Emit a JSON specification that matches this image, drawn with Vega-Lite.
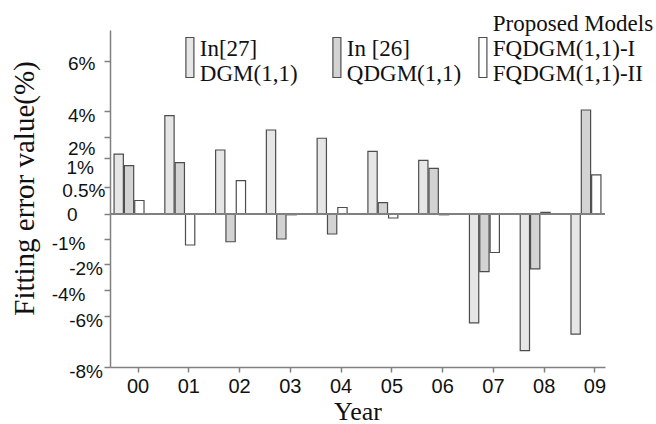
{
  "$schema": "https://vega.github.io/schema/vega-lite/v6.json",
  "width": 495,
  "height": 337,
  "autosize": {"type": "none"},
  "padding": {"left": 110, "top": 30, "right": 51, "bottom": 57},
  "background": "white",
  "config": {"view": {"stroke": null}},
  "data": {
    "values": [
      {"year": "00", "model": "DGM", "error": 1.18},
      {"year": "00", "model": "QDGM", "error": 0.87},
      {"year": "00", "model": "FQDGM", "error": 0.25},
      {"year": "01", "model": "DGM", "error": 3.64},
      {"year": "01", "model": "QDGM", "error": 0.92},
      {"year": "01", "model": "FQDGM", "error": -1.24},
      {"year": "02", "model": "DGM", "error": 1.38},
      {"year": "02", "model": "QDGM", "error": -1.11},
      {"year": "02", "model": "FQDGM", "error": 0.61},
      {"year": "03", "model": "DGM", "error": 2.54},
      {"year": "03", "model": "QDGM", "error": -1.0},
      {"year": "03", "model": "FQDGM", "error": -0.03},
      {"year": "04", "model": "DGM", "error": 1.94},
      {"year": "04", "model": "QDGM", "error": -0.8},
      {"year": "04", "model": "FQDGM", "error": 0.12},
      {"year": "05", "model": "DGM", "error": 1.32},
      {"year": "05", "model": "QDGM", "error": 0.21},
      {"year": "05", "model": "FQDGM", "error": -0.16},
      {"year": "06", "model": "DGM", "error": 0.96},
      {"year": "06", "model": "QDGM", "error": 0.82},
      {"year": "06", "model": "FQDGM", "error": -0.03},
      {"year": "07", "model": "DGM", "error": -6.27},
      {"year": "07", "model": "QDGM", "error": -2.59},
      {"year": "07", "model": "FQDGM", "error": -1.54},
      {"year": "08", "model": "DGM", "error": -7.36},
      {"year": "08", "model": "QDGM", "error": -2.38},
      {"year": "08", "model": "FQDGM", "error": 0.03},
      {"year": "09", "model": "DGM", "error": -6.71},
      {"year": "09", "model": "QDGM", "error": 4.04},
      {"year": "09", "model": "FQDGM", "error": 0.71}
    ]
  },
  "layer": [
    {
      "mark": {"type": "bar", "stroke": "#4d4d4d", "strokeWidth": 1.2},
      "encoding": {
        "x": {
          "field": "year",
          "type": "nominal",
          "sort": null,
          "scale": {"paddingInner": 0.41, "paddingOuter": 0.08},
          "axis": {
            "title": "Year",
            "titleFont": "Liberation Serif",
            "titleFontSize": 26,
            "titleFontWeight": "normal",
            "titleColor": "#111111",
            "titlePadding": 2,
            "labelFont": "Liberation Sans",
            "labelFontSize": 20,
            "labelColor": "#111111",
            "labelAngle": 0,
            "labelPadding": 4,
            "labelOffset": 9,
            "bandPosition": 0.8,
            "domainColor": "#808080",
            "domainWidth": 1.5,
            "tickColor": "#808080",
            "tickWidth": 1.5,
            "tickSize": 5,
            "grid": false
          }
        },
        "xOffset": {
          "field": "model",
          "type": "nominal",
          "sort": ["DGM", "QDGM", "FQDGM"],
          "scale": {"paddingInner": 0.1, "paddingOuter": 0}
        },
        "y": {
          "field": "error",
          "type": "quantitative",
          "stack": null,
          "scale": {
            "domain": [-8, -6, -4, -2, -1, 0, 0.5, 1, 2, 4, 6, 7.24],
            "range": [337, 286, 260, 234, 209, 184, 157, 128, 107, 81, 31, 0],
            "zero": false,
            "nice": false
          },
          "axis": {
            "values": [-8, -6, -4, -2, -1, 0, 0.5, 1, 2, 4, 6],
            "tickCount": 50,
            "labelExpr": "datum.value == 0 ? '0' : datum.value + '%'",
            "title": "Fitting error value(%)",
            "titleFont": "Liberation Serif",
            "titleFontSize": 29,
            "titleFontWeight": "normal",
            "titleColor": "#111111",
            "titlePadding": 12,
            "titleY": 158,
            "labelFont": "Liberation Sans",
            "labelFontSize": 19,
            "labelColor": "#111111",
            "labelOverlap": false,
            "labelFlush": false,
            "labelPadding": {
              "condition": [
                {"test": "datum.value == 0.5", "value": -1},
                {"test": "datum.value == 0", "value": 27},
                {"test": "datum.value == -1 || datum.value == -4", "value": 19},
                {"test": "datum.value == -2 || datum.value == -6 || datum.value == -8", "value": 1.5},
                {"test": "datum.value == 1", "value": 10.5}
              ],
              "value": 9
            },
            "labelOffset": {
              "condition": [
                {"test": "datum.value == 2", "value": 11},
                {"test": "datum.value == 1", "value": 9.5},
                {"test": "datum.value == 0.5", "value": 3},
                {"test": "datum.value == 6", "value": 2},
                {"test": "datum.value == 0", "value": 0}
              ],
              "value": 4.5
            },
            "domainColor": "#808080",
            "domainWidth": 1.5,
            "tickColor": "#808080",
            "tickWidth": 1.5,
            "tickSize": 6,
            "grid": false
          }
        },
        "y2": {"datum": 0},
        "fill": {
          "field": "model",
          "type": "nominal",
          "scale": {
            "domain": ["DGM", "QDGM", "FQDGM"],
            "range": ["#e6e6e6", "#d3d3d3", "#ffffff"]
          },
          "legend": {
            "orient": "none",
            "legendX": 68.4,
            "legendY": -18,
            "direction": "horizontal",
            "columns": 3,
            "gridAlign": "none",
            "columnPadding": 10,
            "padding": 0,
            "title": null,
            "symbolType": "M-0.8,2.8H0.8V10.8H-0.8Z",
            "symbolSize": 100,
            "symbolStrokeColor": "#4d4d4d",
            "symbolStrokeWidth": 1.2,
            "labelFont": "Liberation Serif",
            "labelFontSize": 23,
            "labelLineHeight": 27,
            "labelColor": "#111111",
            "labelLimit": 400,
            "labelOffset": -1.6,
            "labelExpr": "datum.label == 'DGM' ? ['', 'In[27]', 'DGM(1,1)\u00a0\u00a0\u00a0\u200b'] : datum.label == 'QDGM' ? ['', 'In [26]', 'QDGM(1,1)'] : ['Proposed Models', 'FQDGM(1,1)-I', 'FQDGM(1,1)-II']"
          }
        }
      }
    },
    {
      "mark": {"type": "rule", "color": "#808080", "strokeWidth": 1.5},
      "encoding": {"y": {"datum": 0}}
    }
  ]
}
